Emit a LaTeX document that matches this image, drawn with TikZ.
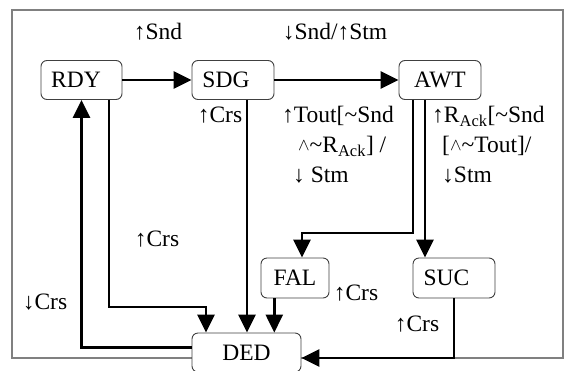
\documentclass[tikz,border=0pt]{standalone}
\usepackage{fontspec}
\setmainfont{Liberation Serif}
\usetikzlibrary{arrows.meta}

\newcommand{\lwedge}{\raisebox{2pt}{\fontsize{17}{17}\selectfont$\wedge$}}
\newcommand{\tld}{\textasciitilde}

\begin{document}
\begin{tikzpicture}[x=1pt,y=-1pt,
  state/.style={draw=black!75, line width=0.9pt, rounded corners=6pt, fill=white,
    inner sep=0pt, minimum height=39pt, font=\fontsize{23.5}{27}\selectfont},
  trans/.style={line width=2.8pt, -{Triangle[length=18pt,width=17pt]}},
  lbl/.style={inner sep=0pt, font=\fontsize{23.5}{30}\selectfont, align=left},
  frame/.style={draw=black!50, line width=1.3pt},
]
\useasboundingbox (0,0) rectangle (564,370);

% outer frame
\draw[frame] (12,10) rectangle (563,358);

% states
\node[state, minimum width=81pt] (rdy) at (81.5,80) {RDY\hspace*{11pt}};
\node[state, minimum width=82pt] (sdg) at (233,80) {SDG\hspace*{14pt}};
\node[state, minimum width=82pt] (awt) at (440,80) {AWT};
\node[state, minimum width=68pt, minimum height=40pt] (fal) at (295,278) {FAL};
\node[state, minimum width=82pt, minimum height=40pt] (suc) at (454,278) {SUC\hspace*{15pt}};
\node[state, minimum width=109pt] (ded) at (246.5,352.5) {DED};

% bend points
\coordinate (r1) at (109,307);
\coordinate (r2) at (206,307);
\coordinate (a1) at (413,233);
\coordinate (a2) at (302,233);
\coordinate (s1) at (454,358);

% transitions
\draw[trans] (rdy.east) -- (sdg.west);
\draw[trans] (sdg.east) -- (awt.west);
\draw[trans] ([yshift=5pt]ded.west) -| (rdy.south);
\draw[trans] ([xshift=27.5pt]rdy.south) -- (r1) -- (r2) -- (r2 |- ded.north);
\draw[trans] ([xshift=14pt]sdg.south) -- ([xshift=14pt]sdg.south |- ded.north);
\draw[trans] ([xshift=-20.7pt]fal.south) -- ([xshift=-20.7pt]fal.south |- ded.north);
\draw[trans] ([xshift=-27pt]awt.south) -- (a1) -- (a2) -- (a2 |- fal.north);
\draw[trans] ([xshift=-15pt]awt.south) -- ([xshift=-15pt]awt.south |- suc.north);
\draw[trans] (suc.south) -- (s1) -- (s1 -| ded.east);

% transition labels
\node[lbl, anchor=base] (lsnd) at (158,39) {↑Snd};
\node[lbl, anchor=base] (lstm) at (335,39) {↓Snd/↑Stm};
\node[lbl, anchor=base] (lcrs1) at (220,122.5) {↑Crs};
\node[lbl, anchor=base] (lcrs2) at (157,246) {↑Crs};
\node[lbl, anchor=base] (lcrs3) at (45,309.5) {↓Crs};
\node[lbl, anchor=base] (lcrs4) at (356,300) {↑Crs};
\node[lbl, anchor=base] (lcrs5) at (417,331.5) {↑Crs};
\node[lbl, anchor=north west] (ltout) at (282,106)
  {↑Tout[\tld Snd\\
   \hspace*{16pt}\lwedge\tld R\textsubscript{Ack}] /\\
   \hspace*{11pt}↓ Stm};
\node[lbl, anchor=north west] (lack) at (432,106)
  {↑R\textsubscript{Ack}[\tld Snd\\
   \hspace*{10pt}[\lwedge\tld Tout]/\\
   \hspace*{10pt}↓Stm};
\end{tikzpicture}
\end{document}
